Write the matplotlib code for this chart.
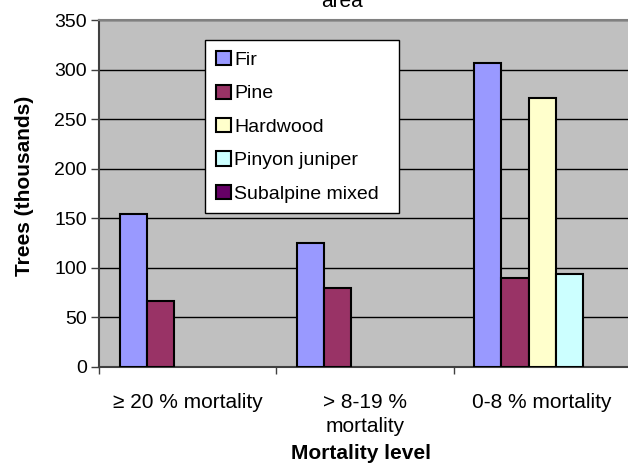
import numpy as np
import matplotlib
matplotlib.use("Agg")
import matplotlib.pyplot as plt
from matplotlib.patches import Patch

plt.rcParams['font.family'] = ['Liberation Sans', 'DejaVu Sans']

# data (thousands of trees)
levels = ['\u2265 20 % mortality', '> 8-19 %\nmortality', '0-8 % mortality']
species = ['Fir', 'Pine', 'Hardwood', 'Pinyon juniper', 'Subalpine mixed']
fir = [154, 125, 307]
pine = [66, 79, 90]
hardwood = [0, 0, 271]
pinyon = [0, 0, 94]
subalpine = [0, 0, 0]
colors = ['#9999FF', '#993366', '#FFFFCC', '#CCFFFF', '#660066']

W, H = 628, 465
fig = plt.figure(figsize=(W / 100, H / 100), dpi=100)
ax = fig.add_axes([99.3 / W, 1 - 366.7 / H, 531.5 / W, 346.5 / H])
ax.set_facecolor('#C0C0C0')

series = [fir, pine, hardwood, pinyon, subalpine]
x = np.arange(len(levels))
bw = 0.1535
for k, vals in enumerate(series):
    vals = np.array(vals, dtype=float)
    pos = x - 2 * bw + k * bw
    keep = vals > 0
    ax.bar(pos[keep], vals[keep], width=bw, color=colors[k], edgecolor='black',
           linewidth=1.5, zorder=3)

ax.set_xlim(-0.5, 2.5)
ax.set_ylim(0, 350)
ax.set_yticks(range(0, 351, 50))
ax.yaxis.grid(True, color='black', linewidth=1, zorder=1)
ax.set_axisbelow(True)

ax.set_xticks(x)
ax.set_xticklabels(levels, fontsize=15, linespacing=1.3)
ax.tick_params(axis='x', which='major', length=0, pad=19)
ax.set_xticks([-0.5, 0.5, 1.5], minor=True)
ax.tick_params(axis='x', which='minor', length=5, width=1, color='#404040', direction='out')
ax.tick_params(axis='y', length=6, width=1, color='#404040', labelsize=14, pad=3)

for s in ['left', 'bottom']:
    ax.spines[s].set_color('#404040')
    ax.spines[s].set_linewidth(1.5)
ax.spines['top'].set_color('#808080')
ax.spines['top'].set_linewidth(1.5)
ax.spines['right'].set_visible(False)

fig.text(25 / W, 1 - 186 / H, 'Trees (thousands)', rotation=90, fontsize=15,
         fontweight='bold', ha='center', va='center')
fig.text(361 / W, 1 - 453 / H, 'Mortality level', fontsize=15,
         fontweight='bold', ha='center', va='center')
fig.text(342 / W, 1 - 7 / H, 'area', fontsize=15, ha='center', va='baseline')

handles = [Patch(facecolor=c, edgecolor='black', linewidth=1.5, label=s)
           for c, s in zip(colors, species)]
leg = ax.legend(handles=handles, loc='upper left',
                bbox_to_anchor=(205.3 / W, 1 - 45 / H, 194 / W, 0.01),
                bbox_transform=fig.transFigure, mode='expand', borderaxespad=0,
                fontsize=14, frameon=True, fancybox=False, framealpha=1,
                edgecolor='black', borderpad=0.55, labelspacing=0.8,
                handlelength=0.75, handleheight=0.75, handletextpad=0.2)
leg.get_frame().set_linewidth(1)
leg.set_zorder(5)

fig.savefig('out.png', dpi=100)
